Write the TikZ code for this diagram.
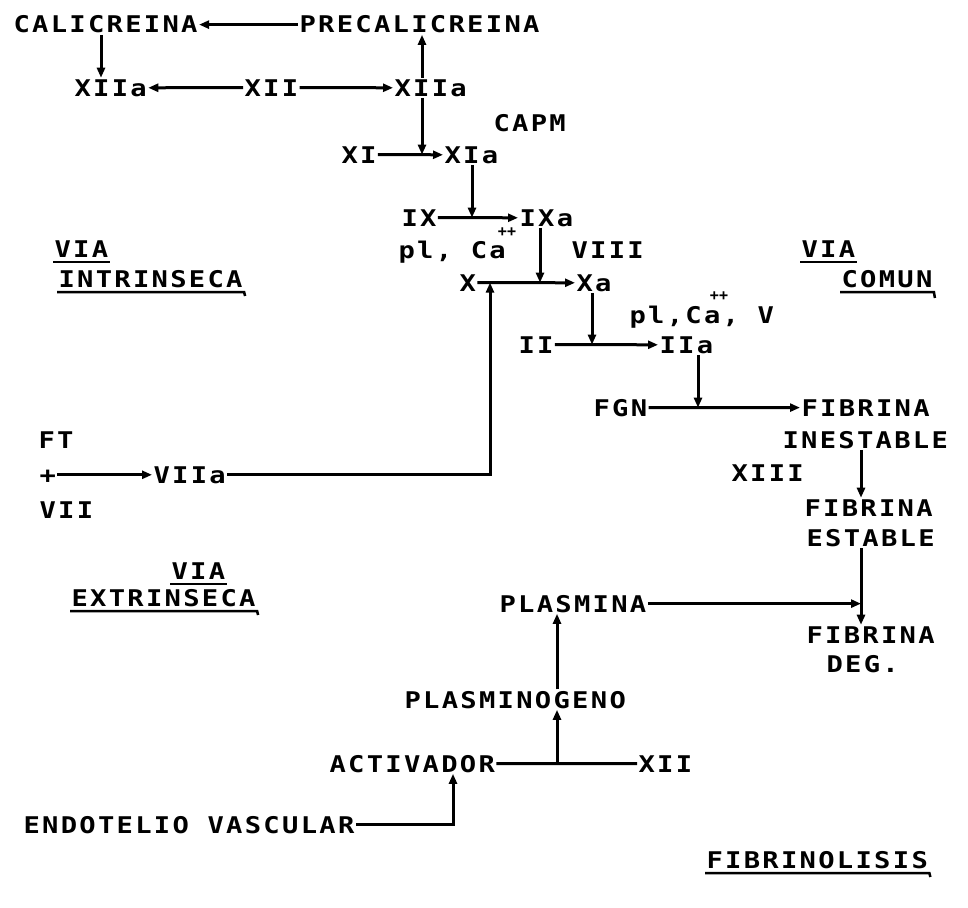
\documentclass[tikz,border=0pt]{standalone}
\usepackage{fontspec}
\newfontfamily\dm{DejaVu Sans Mono}[LetterSpace=10,FakeStretch=1.18]
\newfontfamily\dmsup{DejaVu Sans Mono}
\usetikzlibrary{arrows.meta,calc}
\begin{document}
\begin{tikzpicture}[x=1pt,y=-1pt,
  t/.style={inner sep=0pt, outer sep=1.5pt, anchor=base west, font={\dm\bfseries\fontsize{23}{25}\selectfont}},
  supr/.style={inner sep=0pt, outer sep=0pt, font={\dmsup\bfseries\fontsize{15}{15}\selectfont}},
  arr/.style={line width=3pt, -{Triangle[length=10pt,width=8pt]}},
  ln/.style={line width=3pt},
  ul/.style={line width=2.5pt}]
\useasboundingbox (0,0) rectangle (968,907);
% text nodes
\node[t] (cal) at (12,33) {CALICREINA};
\node[t] (precal) at (298,33) {PRECALICREINA};
\node[t] (xiiaL) at (73,96) {XIIa};
\node[t] (xii) at (243,96) {XII};
\node[t] (xiiaR) at (393,96) {XIIa};
\node[t] (capm) at (492,131) {CAPM};
\node[t] (xi) at (340,163) {XI};
\node[t] (xia) at (443,163) {XIa};
\node[t] (ix) at (400,226) {IX};
\node[t] (ixa) at (518,226) {IXa};
\node[t] (plcaA) at (397,258) {pl, Ca};
\node[supr] (supA) at (507,232) {++};
\node[t] (viii) at (570,258) {VIII};
\node[t] (x) at (458,291) {X};
\node[t] (xa) at (575,291) {Xa};
\node[t] (plcaB) at (628,323) {pl,Ca, V};
\node[supr] (supB) at (719,296) {++};
\node[t] (ii) at (517,353) {II};
\node[t] (iia) at (658,353) {IIa};
\node[t] (fgn) at (592,416) {FGN};
\node[t] (fibI) at (800,416) {FIBRINA};
\node[t] (inest) at (781,448) {INESTABLE};
\node[t] (xiii) at (730,481) {XIII};
\node[t] (fibE) at (803,516) {FIBRINA};
\node[t] (estab) at (805,546) {ESTABLE};
\node[t] (plasmina) at (498,612) {PLASMINA};
\node[t] (fibD) at (805,643) {FIBRINA};
\node[t] (deg) at (825,672) {DEG.};
\node[t] (plasmgn) at (403,708) {PLASMINOGENO};
\node[t] (activ) at (328,772) {ACTIVADOR};
\node[t] (xiiB) at (637,772) {XII};
\node[t] (endo) at (22,833) {ENDOTELIO VASCULAR};
\node[t] (fibrin) at (705,868) {FIBRINOLISIS};
\node[t] (ft) at (37,448) {FT};
\node[t] (plus) at (38,483) {+};
\node[t] (vii) at (38,518) {VII};
\node[t] (viia) at (152,483) {VIIa};
\node[t] (viaA) at (53,257) {VIA};
\node[t] (intr) at (57,287) {INTRINSECA};
\node[t] (viaB) at (800,257) {VIA};
\node[t] (comun) at (840,287) {COMUN};
\node[t] (viaC) at (170,579) {VIA};
\node[t] (extr) at (70,606) {EXTRINSECA};
% x positions of vertical connectors
\coordinate (c0) at (101,0);
\coordinate (c1) at (422,0);
\coordinate (c2) at (472,0);
\coordinate (c3) at (540,0);
\coordinate (c4) at (490,0);
\coordinate (c5) at (592,0);
\coordinate (c6) at (698,0);
\coordinate (c7) at (861,0);
\coordinate (c8) at (557,0);
\coordinate (c9) at (453,0);
% connectors
\draw[arr] (precal.west) -- (cal.east);
\draw[arr] (cal.south -| c0) -- (xiiaL.north -| c0);
\draw[arr] (xii.west) -- (xiiaL.east);
\draw[arr] (xii.east) -- (xiiaR.west);
\draw[arr] (xiiaR.north -| c1) -- (precal.south -| c1);
\draw[arr] (xi.east) -- (xia.west);
\draw[arr] (xiiaR.south -| c1) -- (xi.east -| c1);
\draw[arr] (ix.east) -- (ixa.west);
\draw[arr] (xia.south -| c2) -- (ix.east -| c2);
\draw[arr] (x.east) -- (xa.west);
\draw[arr] (ixa.south -| c3) -- (x.east -| c3);
\draw[arr] (plus.east |- viia.west) -- (viia.west);
\draw[arr] (viia.east) -| (x.east -| c4);
\draw[arr] (ii.east) -- (iia.west);
\draw[arr] (xa.south -| c5) -- (ii.east -| c5);
\draw[arr] (fgn.east) -- (fibI.west);
\draw[arr] (iia.south -| c6) -- (fgn.east -| c6);
\draw[arr] (inest.south -| c7) -- (fibE.north -| c7);
\draw[arr] (estab.south -| c7) -- (fibD.north -| c7);
\draw[arr] (plasmina.east) -- (plasmina.east -| c7);
\draw[arr] (plasmgn.north -| c8) -- (plasmina.south -| c8);
\draw[ln] (activ.east) -- (xiiB.west);
\draw[arr] (activ.east -| c8) -- (plasmgn.south -| c8);
\draw[arr] (endo.east) -| (activ.south -| c9);
% underlines
\draw[ul] ([yshift=-5pt]viaA.base west) -- ([yshift=-5pt]viaA.base east);
\draw[ul] ([yshift=-5pt]intr.base west) -- ([yshift=-5pt]intr.base east) -- ++(1,4);
\draw[ul] ([yshift=-5pt]viaB.base west) -- ([yshift=-5pt]viaB.base east);
\draw[ul] ([yshift=-5pt]comun.base west) -- ([yshift=-5pt]comun.base east) -- ++(1,6);
\draw[ul] ([yshift=-5pt]viaC.base west) -- ([yshift=-5pt]viaC.base east);
\draw[ul] ([yshift=-5pt]extr.base west) -- ([yshift=-5pt]extr.base east) -- ++(1,4);
\draw[ul] ([yshift=-5pt]fibrin.base west) -- ([yshift=-5pt]fibrin.base east) -- ++(1,4);
\end{tikzpicture}
\end{document}
